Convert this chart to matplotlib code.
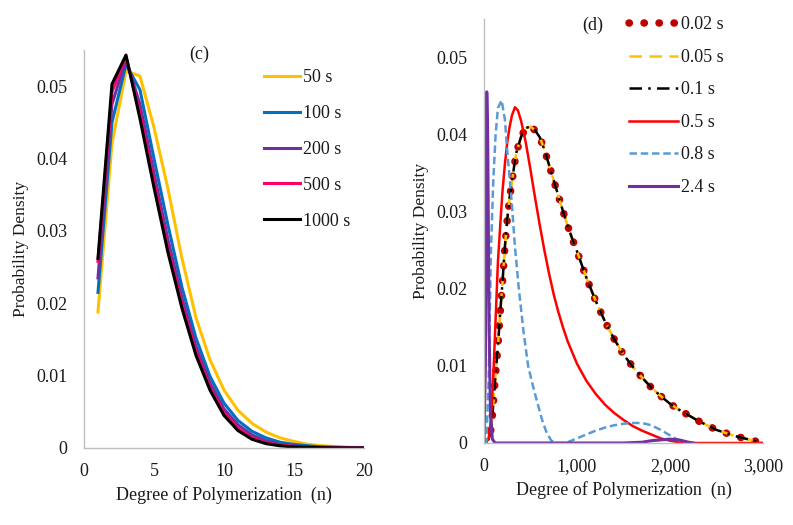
import matplotlib
matplotlib.use("Agg")
import matplotlib.pyplot as plt

plt.rcParams['font.family'] = ['Liberation Serif', 'DejaVu Serif']

# ---- panel (c): short times, n = 1..20
n_c = list(range(1, 21))
pd_50 = [0.0188, 0.0421, 0.0521, 0.0514, 0.0443, 0.0358, 0.0262, 0.0180, 0.0122, 0.0080,
         0.0052, 0.0034, 0.0022, 0.0014, 0.0009, 0.0005, 0.0003, 0.0002, 0.0001, 0.00005]
pd_100 = [0.0215, 0.0450, 0.0530, 0.0495, 0.0400, 0.0308, 0.0222, 0.0152, 0.0099, 0.0062,
          0.0038, 0.0023, 0.0014, 0.0008, 0.0005, 0.0003, 0.00015, 0.0001, 0.00005, 0.00002]
pd_200 = [0.0235, 0.0475, 0.0537, 0.0475, 0.0380, 0.0288, 0.0207, 0.0140, 0.0090, 0.0054,
          0.0032, 0.0018, 0.0010, 0.0005, 0.0003, 0.00015, 0.0001, 0.00005, 0.00002, 0.0]
pd_500 = [0.0258, 0.0492, 0.0541, 0.0462, 0.0368, 0.0276, 0.0198, 0.0133, 0.0083, 0.0049,
          0.0027, 0.0014, 0.0007, 0.0004, 0.0002, 0.0001, 0.00005, 0.00002, 0.0, 0.0]
pd_1000 = [0.0262, 0.0503, 0.0543, 0.0455, 0.0360, 0.0270, 0.0193, 0.0128, 0.0080, 0.0045,
           0.0024, 0.0012, 0.0006, 0.0003, 0.00015, 0.0001, 0.00005, 0.00002, 0.0, 0.0]

# ---- panel (d): early times
n_main = [0, 50, 80, 100, 125, 150, 175, 200, 225, 250, 275, 300, 325, 350, 400, 450, 500,
          550, 600, 650, 700, 750, 800, 850, 900, 950, 1000, 1100, 1200, 1300, 1400, 1500,
          1600, 1700, 1800, 1900, 2000, 2100, 2200, 2300, 2400, 2500, 2600, 2700, 2800,
          2900, 3000]
pd_002 = [0.0, 0.0005, 0.002, 0.005, 0.009, 0.0125, 0.017, 0.021, 0.0255, 0.029, 0.0318,
          0.0338, 0.036, 0.0378, 0.0398, 0.0409, 0.0411, 0.0406, 0.0397, 0.0381, 0.0361,
          0.0341, 0.0321, 0.0301, 0.0282, 0.0265, 0.0249, 0.0215, 0.0185, 0.0158, 0.0135,
          0.0115, 0.0099, 0.0085, 0.0072, 0.0061, 0.0051, 0.0043, 0.0036, 0.0029, 0.0023,
          0.0017, 0.0013, 0.0009, 0.0006, 0.0003, 0.0]
pd_005 = list(pd_002)
pd_01 = list(pd_002)

n_05 = [0, 50, 75, 100, 125, 150, 175, 200, 225, 250, 275, 300, 333, 365, 400, 450, 500,
        550, 600, 650, 700, 750, 800, 850, 900, 1000, 1100, 1200, 1300, 1400, 1500, 1600,
        1700, 1800, 1900, 2000, 2100, 2200, 2500, 3000]
pd_05 = [0.0, 0.0005, 0.003, 0.0085, 0.016, 0.0235, 0.0283, 0.0328, 0.0362, 0.0390, 0.0410,
         0.0425, 0.0436, 0.0432, 0.0418, 0.0390, 0.0355, 0.0318, 0.0283, 0.0250, 0.0220,
         0.0193, 0.0170, 0.0150, 0.0132, 0.0103, 0.0081, 0.0064, 0.0050, 0.0039, 0.0030,
         0.0022, 0.0016, 0.0011, 0.0006, 0.0003, 0.0001, 0.0, 0.0, 0.0]

n_08 = [0, 25, 50, 75, 100, 125, 150, 190, 225, 250, 300, 333, 375, 425, 475, 525, 575, 625,
        675, 725, 775, 850, 900, 1000, 1100, 1200, 1300, 1400, 1500, 1600, 1700, 1800,
        1900, 2000, 2100, 2150]
pd_08 = [0.0, 0.0, 0.008, 0.025, 0.034, 0.040, 0.0435, 0.0445, 0.042, 0.038, 0.031, 0.0255,
         0.020, 0.0145, 0.010, 0.0075, 0.0052, 0.003, 0.0013, 0.0003, 0.0, 0.0, 0.0001,
         0.0006, 0.0011, 0.0016, 0.0020, 0.0023, 0.0025, 0.0026, 0.0026, 0.0023, 0.0017,
         0.0010, 0.0003, 0.0]

n_24 = [0, 15, 30, 40, 55, 70, 90, 120, 1500, 1700, 1800, 1900, 2000, 2100, 2200, 2250]
pd_24 = [0.0, 0.010, 0.0456, 0.040, 0.015, 0.004, 0.0005, 0.0, 0.0, 0.0001, 0.0003, 0.0004,
         0.0005, 0.0004, 0.0001, 0.0]

txt = '#1a1a1a'
grey = '#BFBFBF'
fs = 13

fig = plt.figure(figsize=(7.93, 5.25), dpi=100)
ax1 = fig.add_axes([0.1059, 0.1467, 0.3531, 0.758])
ax2 = fig.add_axes([0.6103, 0.1562, 0.3518, 0.8067])

lw = 2.2
ax1.plot(n_c, pd_50, color='#FFC000', lw=lw, label='50 s')
ax1.plot(n_c, pd_100, color='#0070C0', lw=lw, label='100 s')
ax1.plot(n_c, pd_200, color='#7030A0', lw=lw, label='200 s')
ax1.plot(n_c, pd_500, color='#FF0066', lw=lw, label='500 s')
ax1.plot(n_c, pd_1000, color='black', lw=lw, label='1000 s')
ax1.set_xlim(0, 20)
ax1.set_ylim(0, 0.055)
ax1.set_xticks([0, 5, 10, 15, 20])
ax1.set_yticks([0, 0.01, 0.02, 0.03, 0.04, 0.05])
ax1.set_yticklabels(['0', '0.01', '0.02', '0.03', '0.04', '0.05'])
ax1.text(0.41, 0.99, '(c)', transform=ax1.transAxes, fontsize=fs, color=txt, va='center', ha='center')
ax1.legend(loc='upper left', bbox_to_anchor=(0.322, 0.885), bbox_transform=fig.transFigure,
           frameon=False, fontsize=fs, handlelength=2.0, handletextpad=0.15,
           labelspacing=1.04, borderpad=0, labelcolor=txt)

ax2.plot(n_main, pd_002, color='#C00000', lw=5.4, linestyle=(0, (0.05, 1.95)),
         dash_capstyle='round', label='0.02 s')
ax2.plot(n_main, pd_005, color='#FFC000', lw=1.8, linestyle=(0, (5, 3)), label='0.05 s')
ax2.plot(n_main, pd_01, color='black', lw=1.8, linestyle=(0, (5, 2.5, 1, 2.5)), label='0.1 s')
ax2.plot(n_05, pd_05, color='#FF0000', lw=1.8, label='0.5 s')
ax2.plot(n_08, pd_08, color='#5B9BD5', lw=1.8, linestyle=(0, (3, 1.5)), label='0.8 s')
ax2.plot(n_24, pd_24, color='#7030A0', lw=2.2, label='2.4 s')
ax2.set_xlim(0, 3000)
ax2.set_ylim(0, 0.055)
ax2.set_xticks([0, 1000, 2000, 3000])
ax2.set_xticklabels(['0', '1,000', '2,000', '3,000'])
ax2.set_yticks([0, 0.01, 0.02, 0.03, 0.04, 0.05])
ax2.set_yticklabels(['0', '0.01', '0.02', '0.03', '0.04', '0.05'])
ax2.text(0.39, 0.985, '(d)', transform=ax2.transAxes, fontsize=fs, color=txt, va='center', ha='center')
ax2.legend(loc='upper left', bbox_to_anchor=(0.782, 0.986), bbox_transform=fig.transFigure,
           frameon=False, fontsize=fs, handlelength=2.7, handletextpad=0.15,
           labelspacing=0.86, borderpad=0, labelcolor=txt)

for ax in (ax1, ax2):
    for s in ('top', 'right'):
        ax.spines[s].set_visible(False)
    for s in ('left', 'bottom'):
        ax.spines[s].set_color(grey)
        ax.spines[s].set_linewidth(1.0)
    ax.tick_params(length=0, labelsize=fs, labelcolor=txt)
    ax.tick_params(axis='x', pad=11)
    ax.tick_params(axis='y', pad=12)
    ax.set_xlabel('Degree of Polymerization  (n)', fontsize=13, color=txt, labelpad=4)
    ax.set_ylabel('Probability Density', fontsize=12.5, color=txt, labelpad=5)

fig.savefig('out.png', dpi=100)
